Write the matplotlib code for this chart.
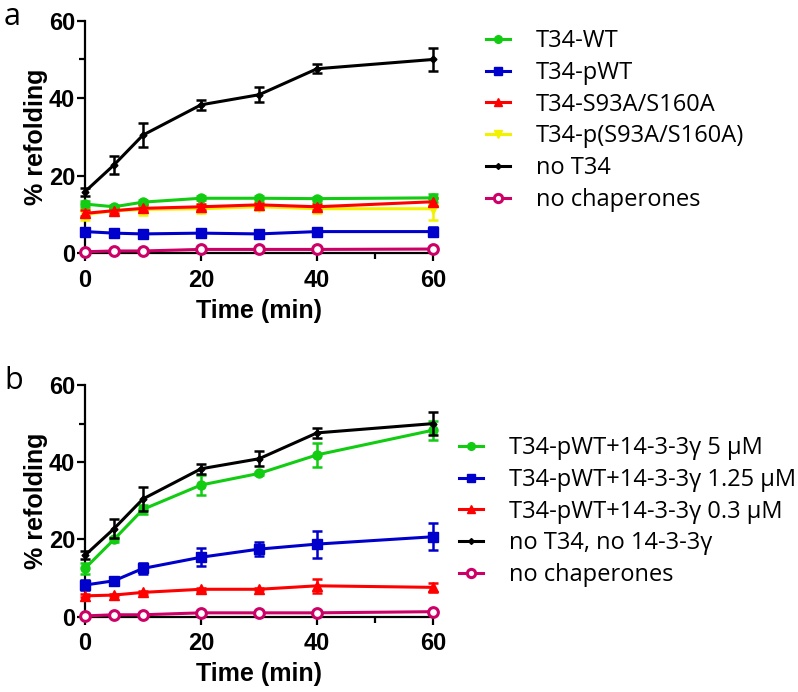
import matplotlib
matplotlib.use("Agg")
import matplotlib.pyplot as plt
from matplotlib.lines import Line2D
from matplotlib.ticker import FixedLocator

# time points (min)
time = [0, 5, 10, 20, 30, 40, 60]

# panel a
a_wt = [12.7, 12.0, 13.2, 14.2, 14.2, 14.1, 14.3]
a_wt_err = [0.8, 0.5, 0.6, 0.5, 0.5, 0.5, 1.0]
a_pwt = [5.6, 5.2, 5.0, 5.2, 5.0, 5.6, 5.6]
a_pwt_err = [0.6, 0.5, 0.5, 0.9, 0.5, 0.5, 1.2]
a_mut = [10.3, 11.0, 11.6, 12.0, 12.5, 12.0, 13.3]
a_mut_err = [0.8, 0.6, 0.8, 0.8, 0.6, 0.8, 1.0]
a_pmut = [10.0, 11.0, 11.3, 11.5, 12.0, 11.5, 11.5]
a_pmut_err = [1.5, 0.8, 1.5, 1.0, 0.8, 1.2, 3.0]
no_t34 = [15.9, 22.8, 30.5, 38.3, 40.9, 47.6, 50.0]
no_t34_err = [1.0, 2.4, 3.2, 1.3, 2.0, 1.2, 3.0]
no_chap_a = [0.4, 0.6, 0.6, 1.0, 1.0, 1.0, 1.1]

# panel b
b_5 = [12.5, 20.0, 27.8, 34.1, 37.1, 41.9, 48.3]
b_5_err = [1.5, 0.7, 1.2, 2.5, 0.5, 3.2, 2.5]
b_125 = [8.2, 9.3, 12.5, 15.4, 17.5, 18.8, 20.7]
b_125_err = [1.2, 0.5, 1.5, 2.3, 1.8, 3.5, 3.5]
b_03 = [5.4, 5.6, 6.3, 7.1, 7.1, 8.0, 7.6]
b_03_err = [0.4, 0.3, 0.4, 0.4, 0.3, 1.8, 1.2]
no_chap_b = [0.2, 0.5, 0.5, 1.0, 1.0, 1.0, 1.3]

labels_a = ["T34-WT", "T34-pWT", "T34-S93A/S160A", "T34-p(S93A/S160A)",
            "no T34", "no chaperones"]
labels_b = ["T34-pWT+14-3-3γ 5 µM", "T34-pWT+14-3-3γ 1.25 µM",
            "T34-pWT+14-3-3γ 0.3 µM", "no T34, no 14-3-3γ", "no chaperones"]

GREEN = "#11cc11"
BLUE = "#0000cc"
RED = "#ff0000"
YELLOW = "#f2f200"
PINK = "#cc0066"

W, H = 798, 692
fig = plt.figure(figsize=(W / 100, H / 100), dpi=100)


def series(ax, y, err, color, marker, ms, label, z, open_marker=False):
    mk = dict(color=color, marker=marker, markersize=ms, linewidth=2.2)
    if open_marker:
        mk.update(markerfacecolor="white", markeredgecolor=color,
                  markeredgewidth=2.2)
    if err is None:
        ax.plot(time, y, zorder=z, clip_on=False, **mk)
    else:
        eb = ax.errorbar(time, y, yerr=err, elinewidth=1.8, capsize=3.5,
                         capthick=1.8, zorder=z, clip_on=False, **mk)
        for art in eb.lines[1] + eb.lines[2]:
            art.set_clip_on(False)
    # legend handle: line + marker only
    hk = dict(mk)
    hk["markersize"] = ms * 0.85
    return Line2D([], [], label=label, **hk)


def style(ax):
    for s in ("top", "right"):
        ax.spines[s].set_visible(False)
    for s in ("left", "bottom"):
        ax.spines[s].set_linewidth(1.6)
    ax.set_xlim(0, 60)
    ax.set_ylim(0, 60)
    ax.set_xticks([0, 20, 40, 60])
    ax.set_yticks([0, 20, 40, 60])
    ax.xaxis.set_minor_locator(FixedLocator([50]))
    ax.yaxis.set_minor_locator(FixedLocator([50]))
    ax.tick_params(which="major", length=6, width=1.6, labelsize=17, pad=1)
    ax.tick_params(which="minor", length=4, width=1.6)
    ax.tick_params(axis="x", pad=5)
    for t in ax.get_xticklabels() + ax.get_yticklabels():
        t.set_fontfamily("Liberation Sans")
        t.set_fontweight("bold")
    ax.set_xlabel("Time (min)", fontsize=18, fontweight="bold",
                  family="Liberation Sans", labelpad=5)
    ax.set_ylabel("% refolding", fontsize=18, fontweight="bold",
                  family="Liberation Sans", labelpad=1)


leg_kw = dict(loc="upper left", bbox_transform=fig.transFigure, frameon=False,
              prop={"family": "Open Sans", "size": 17}, handlelength=1.0,
              handletextpad=1.1, labelspacing=0.33, borderpad=0,
              borderaxespad=0)

# panel a
ax1 = fig.add_axes([85 / W, 1 - 253.3 / H, 348 / W, 232.6 / H])
h = []
h.append(series(ax1, a_wt, a_wt_err, GREEN, "o", 6.5, labels_a[0], 4))
h.append(series(ax1, a_pwt, a_pwt_err, BLUE, "s", 6.5, labels_a[1], 4))
h.append(series(ax1, a_mut, a_mut_err, RED, "^", 6.5, labels_a[2], 4))
h.append(series(ax1, a_pmut, a_pmut_err, YELLOW, "v", 6.5, labels_a[3], 3))
h.append(series(ax1, no_t34, no_t34_err, "black", "D", 3.5, labels_a[4], 5))
h.append(series(ax1, no_chap_a, None, PINK, "o", 7, labels_a[5], 6, open_marker=True))
style(ax1)
ax1.legend(handles=h, bbox_to_anchor=(486 / W, 1 - 29 / H), **leg_kw)

# panel b
ax2 = fig.add_axes([85 / W, 1 - 616.7 / H, 348 / W, 231.7 / H])
h = []
h.append(series(ax2, b_5, b_5_err, GREEN, "o", 6.5, labels_b[0], 4))
h.append(series(ax2, b_125, b_125_err, BLUE, "s", 6.5, labels_b[1], 4))
h.append(series(ax2, b_03, b_03_err, RED, "^", 6.5, labels_b[2], 4))
h.append(series(ax2, no_t34, no_t34_err, "black", "D", 3.5, labels_b[3], 5))
h.append(series(ax2, no_chap_b, None, PINK, "o", 7, labels_b[4], 6, open_marker=True))
style(ax2)
ax2.legend(handles=h, bbox_to_anchor=(459 / W, 1 - 436 / H), **leg_kw)

fig.text(4 / W, 1 - 2 / H, "a", fontsize=22, family="Open Sans", va="top")
fig.text(4 / W, 1 - 366 / H, "b", fontsize=22, family="Open Sans", va="top")

fig.savefig("out.png", dpi=100)
